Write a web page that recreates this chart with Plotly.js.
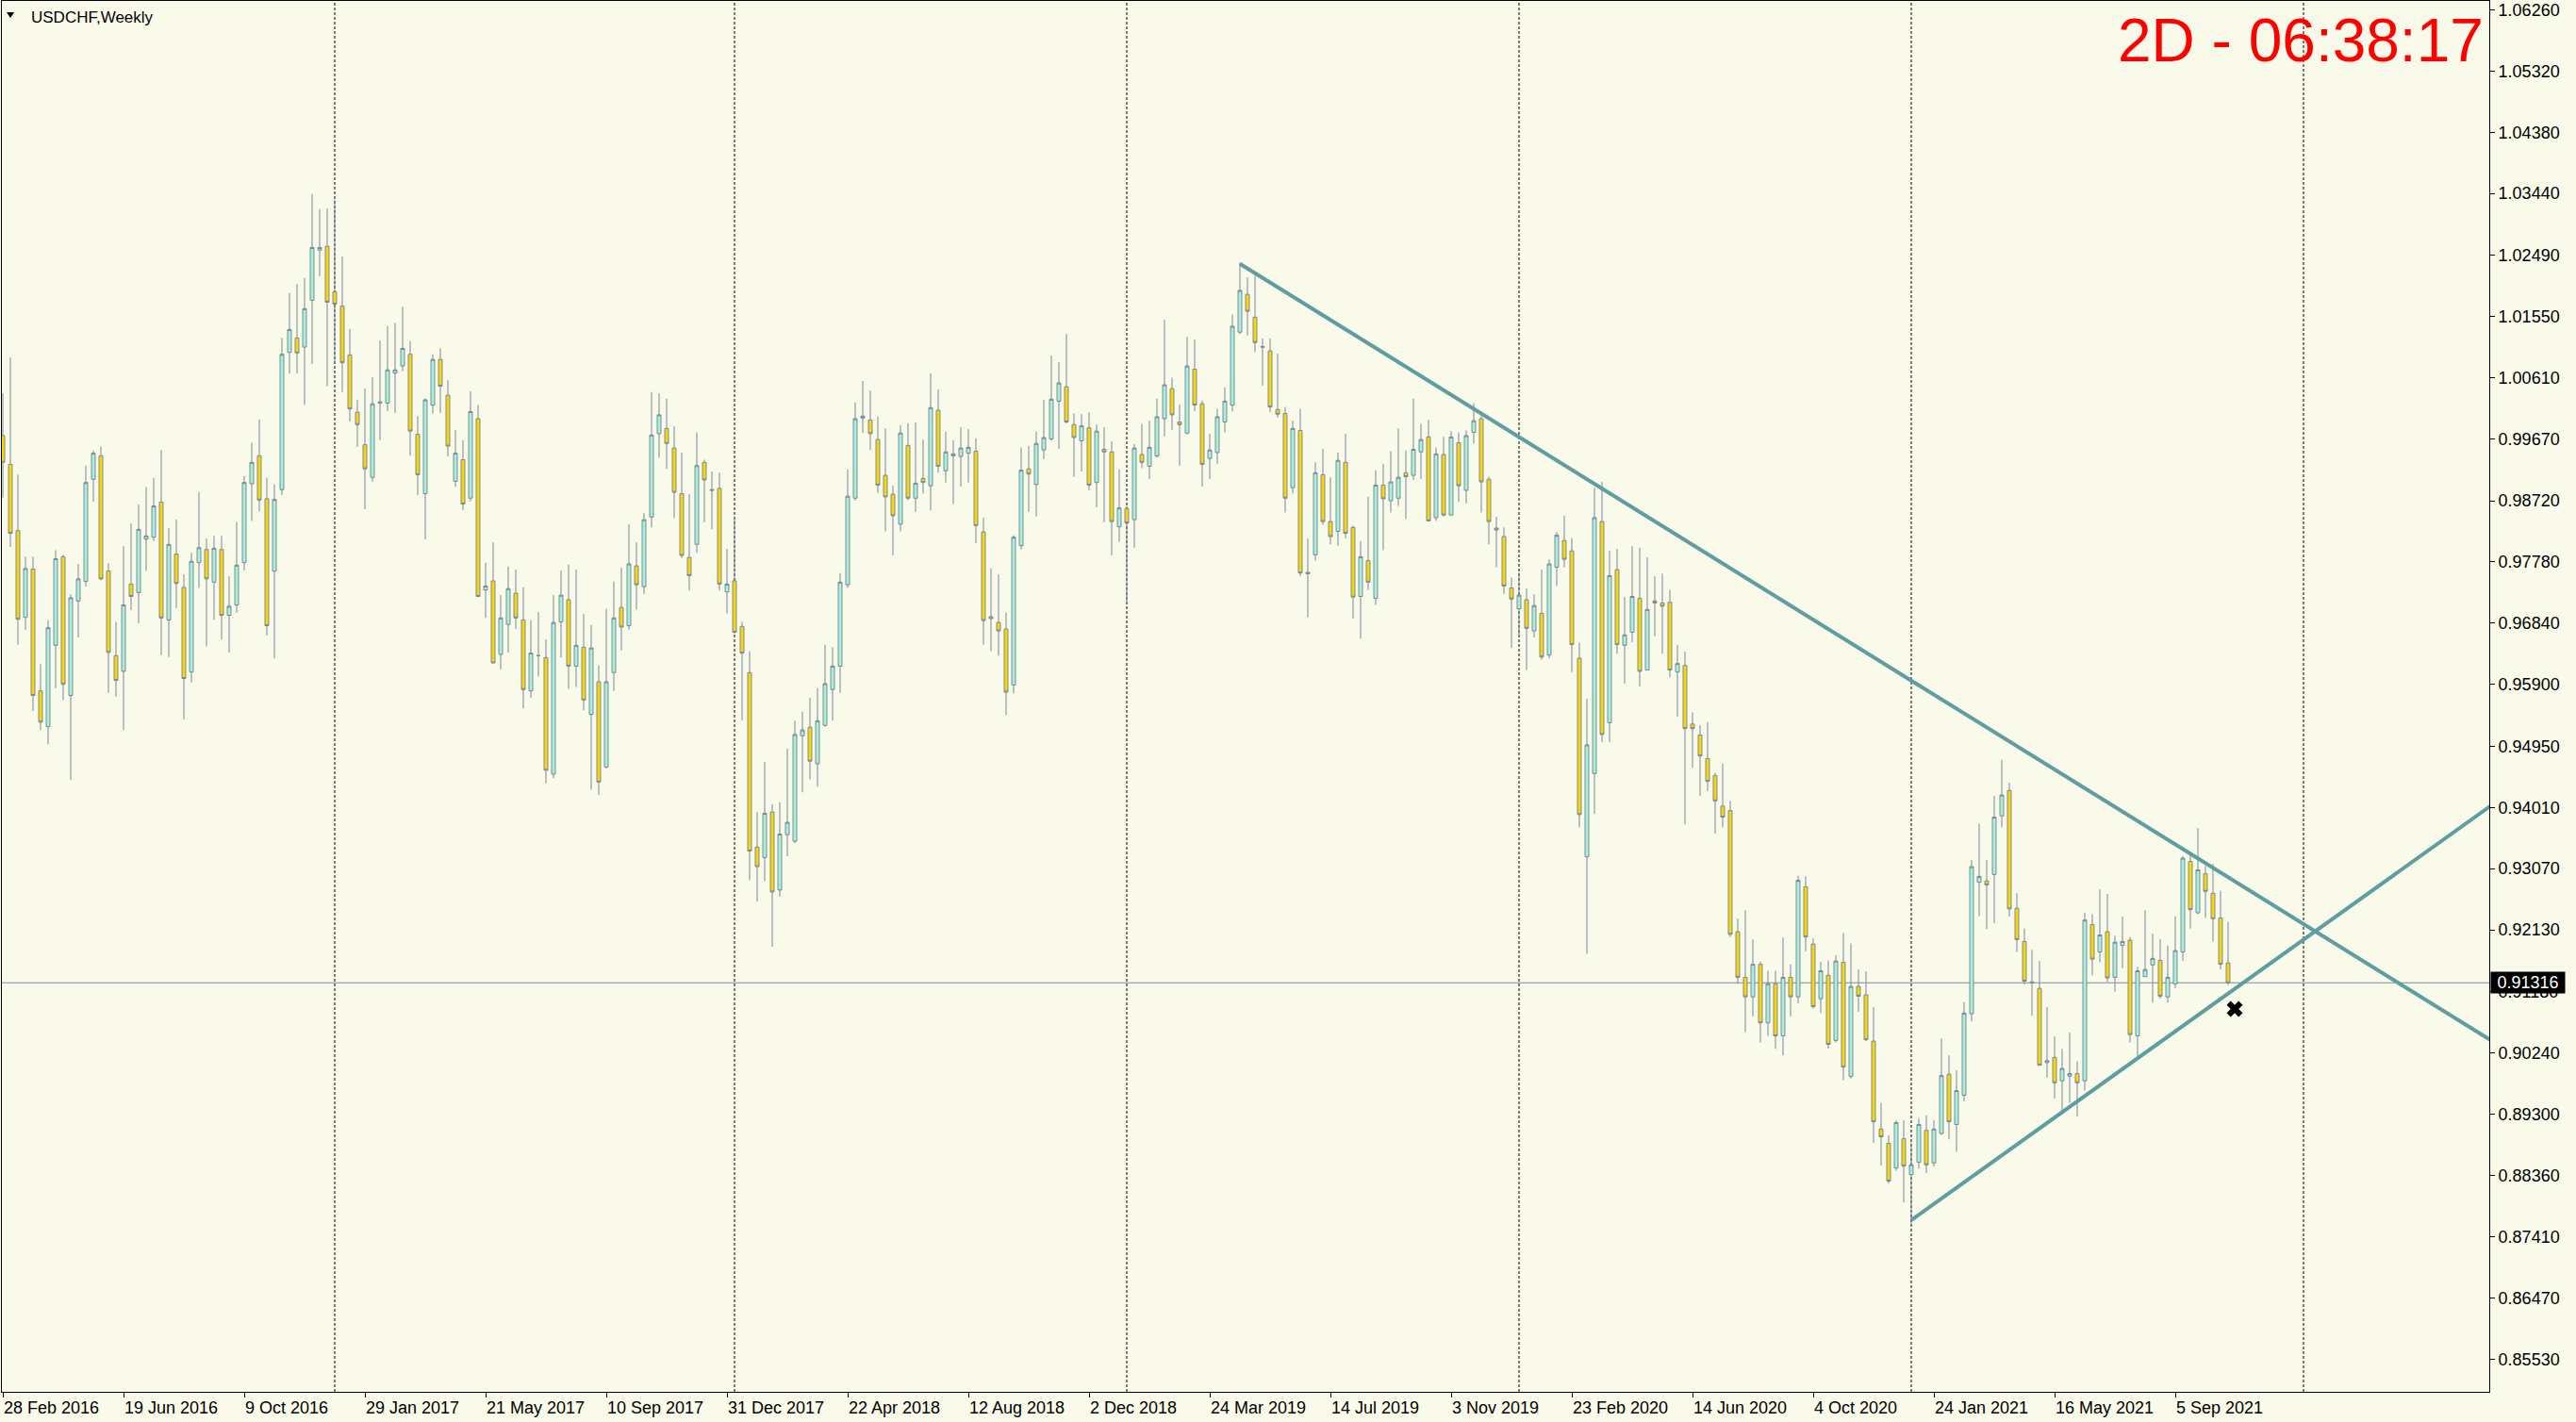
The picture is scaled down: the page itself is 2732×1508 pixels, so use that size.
<!DOCTYPE html>
<html><head><meta charset="utf-8">
<script src="https://cdn.plot.ly/plotly-3.0.1.min.js"></script>
<style>html,body{margin:0;padding:0;background:#FAFAEA;overflow:hidden}#chart{width:2732px;height:1508px}</style>
</head><body><div id="chart"></div>
<script>
// USDCHF weekly candles, first bar = week of 28 Feb 2016
const firstWeek = [2016, 1, 28];
const open = [
0.9972,0.9928,0.9826,0.9693,0.9767,0.9580,0.9525,0.9650,0.9786,0.9573,
0.9718,0.9748,0.9905,0.9941,0.9764,0.9634,0.9610,0.9744,0.9731,0.9813,
0.9816,0.9870,0.9689,0.9790,0.9739,0.9609,0.9777,0.9797,0.9747,0.9797,
0.9696,0.9712,0.9777,0.9898,0.9941,0.9875,0.9764,0.9889,1.0100,1.0122,
1.0108,1.0180,1.0257,1.0263,1.0193,1.0171,1.0096,1.0008,0.9958,0.9908,
1.0024,1.0022,1.0068,1.0079,1.0097,0.9974,0.9883,1.0019,1.0089,1.0034,
0.9902,0.9935,0.9876,0.9998,0.9735,0.9749,0.9636,0.9682,0.9730,0.9689,
0.9580,0.9634,0.9631,0.9452,0.9686,0.9720,0.9618,0.9647,0.9544,0.9594,
0.9463,0.9608,0.9708,0.9680,0.9772,0.9740,0.9847,0.9975,0.9983,0.9953,
0.9883,0.9785,0.9805,0.9931,0.9889,0.9891,0.9732,0.9749,0.9679,0.9608,
0.9340,0.9324,0.9394,0.9274,0.9359,0.9349,0.9511,0.9524,0.9468,0.9527,
0.9582,0.9618,0.9743,0.9876,0.9999,0.9996,0.9966,0.9911,0.9882,0.9836,
0.9957,0.9876,0.9906,0.9895,1.0011,0.9918,0.9941,0.9940,0.9945,0.9948,
0.9824,0.9694,0.9685,0.9675,0.9589,0.9803,0.9921,0.9897,0.9950,0.9967,
1.0025,1.0047,0.9989,0.9964,0.9984,0.9900,0.9951,0.9947,0.9832,0.9860,
0.9843,0.9943,0.9925,0.9941,0.9998,1.0044,0.9993,0.9976,1.0074,1.0021,
0.9937,0.9946,0.9993,1.0019,1.0131,1.0189,1.0154,1.0109,1.0102,1.0012,
1.0006,0.9892,0.9980,0.9762,0.9789,0.9912,0.9840,0.9825,0.9931,0.9831,
0.9725,0.9780,0.9722,0.9896,0.9872,0.9876,0.9915,0.9911,0.9947,0.9970,
0.9846,0.9943,0.9850,0.9961,0.9888,0.9977,0.9998,0.9905,0.9830,0.9817,
0.9738,0.9706,0.9720,0.9672,0.9699,0.9635,0.9770,0.9811,0.9795,0.9630,
0.9325,0.9453,0.9840,0.9531,0.9766,0.9650,0.9670,0.9722,0.9612,0.9718,
0.9715,0.9716,0.9609,0.9619,0.9529,0.9512,0.9476,0.9450,0.9403,0.9396,
0.9210,0.9140,0.9110,0.9160,0.9070,0.9130,0.9050,0.9140,0.9110,0.9279,
0.9191,0.9107,0.9143,0.9043,0.9163,0.8988,0.9126,0.9113,0.9042,0.8907,
0.8885,0.8847,0.8892,0.8837,0.8856,0.8905,0.8855,0.8900,0.8991,0.8914,
0.8959,0.9084,0.9286,0.9288,0.9298,0.9388,0.9427,0.9246,0.9195,0.9133,
0.9123,0.9009,0.9017,0.8981,0.8988,0.8992,0.8981,0.9221,0.9179,0.9210,
0.9140,0.9189,0.9197,0.9050,0.9141,0.9159,0.9166,0.9110,0.9130,0.9179,
0.9318,0.9239,0.9299,0.9269,0.9231,0.9162];
const high = [
1.0037,1.0092,0.9912,0.9786,0.9786,0.9621,0.9688,0.9796,0.9789,0.9728,
0.9775,0.9926,0.9949,0.9955,0.9776,0.9686,0.9802,0.9837,0.9866,0.9893,
0.9907,0.9950,0.9830,0.9843,0.9759,0.9792,0.9885,0.9814,0.9818,0.9818,
0.9756,0.9839,0.9910,0.9961,0.9997,0.9907,0.9897,1.0122,1.0191,1.0205,
1.0214,1.0343,1.0320,1.0321,1.0334,1.0247,1.0136,1.0027,1.0044,1.0062,
1.0118,1.0140,1.0145,1.0170,1.0117,1.0002,1.0029,1.0097,1.0106,1.0057,
0.9981,0.9965,1.0040,1.0019,0.9777,0.9808,0.9727,0.9771,0.9766,0.9739,
0.9688,0.9701,0.9659,0.9727,0.9765,0.9774,0.9766,0.9698,0.9681,0.9619,
0.9706,0.9748,0.9769,0.9836,0.9808,0.9853,1.0039,1.0037,1.0029,0.9986,
0.9946,0.9882,0.9977,0.9935,0.9917,0.9915,0.9798,0.9848,0.9686,0.9641,
0.9394,0.9471,0.9406,0.9409,0.9491,0.9534,0.9548,0.9569,0.9584,0.9651,
0.9647,0.9761,0.9920,1.0023,1.0056,1.0041,1.0001,0.9983,0.9895,0.9988,
0.9991,0.9992,0.9966,1.0068,1.0043,0.9978,0.9965,0.9985,0.9982,0.9968,
0.9846,0.9768,0.9759,0.9700,0.9819,0.9954,0.9956,0.9978,1.0027,1.0095,
1.0085,1.0128,1.0006,1.0005,1.0008,0.9989,0.9985,0.9963,0.9920,0.9864,
0.9959,0.9990,0.9995,1.0029,1.0150,1.0061,1.0020,1.0124,1.0120,1.0026,
0.9975,1.0013,1.0046,1.0158,1.0238,1.0215,1.0218,1.0121,1.0121,1.0098,
1.0016,0.9995,1.0013,0.9814,0.9931,0.9952,0.9908,0.9946,0.9975,0.9834,
0.9810,0.9878,0.9919,0.9929,0.9948,0.9983,0.9949,1.0029,0.9990,0.9996,
0.9954,0.9970,0.9979,0.9977,0.9980,1.0022,1.0006,0.9909,0.9847,0.9831,
0.9754,0.9762,0.9737,0.9728,0.9766,0.9782,0.9824,0.9849,0.9815,0.9654,
0.9568,0.9892,0.9901,0.9795,0.9798,0.9724,0.9802,0.9800,0.9785,0.9756,
0.9760,0.9735,0.9650,0.9640,0.9547,0.9527,0.9532,0.9454,0.9468,0.9411,
0.9230,0.9243,0.9198,0.9164,0.9150,0.9150,0.9201,0.9160,0.9296,0.9295,
0.9200,0.9164,0.9166,0.9174,0.9208,0.9192,0.9152,0.9149,0.9094,0.8947,
0.8897,0.8920,0.8920,0.8885,0.8923,0.8928,0.8920,0.9046,0.9020,0.8997,
0.9102,0.9320,0.9376,0.9320,0.9419,0.9474,0.9439,0.9269,0.9215,0.9182,
0.9165,0.9094,0.9049,0.9030,0.9055,0.9011,0.9239,0.9237,0.9275,0.9268,
0.9204,0.9233,0.9202,0.9156,0.9243,0.9207,0.9199,0.9189,0.9234,0.9326,
0.9333,0.9369,0.9311,0.9314,0.9273,0.9225];
const low = [
0.9877,0.9801,0.9651,0.9674,0.9549,0.9520,0.9498,0.9584,0.9566,0.9443,
0.9662,0.9740,0.9871,0.9750,0.9577,0.9571,0.9520,0.9704,0.9684,0.9764,
0.9810,0.9635,0.9632,0.9707,0.9536,0.9593,0.9738,0.9648,0.9689,0.9659,
0.9639,0.9700,0.9765,0.9841,0.9856,0.9665,0.9630,0.9881,1.0067,1.0068,
1.0019,1.0082,1.0217,1.0048,1.0085,1.0039,0.9994,0.9955,0.9859,0.9901,
0.9965,1.0010,1.0007,1.0071,0.9941,0.9881,0.9813,1.0006,1.0007,0.9940,
0.9893,0.9858,0.9871,0.9724,0.9692,0.9622,0.9613,0.9639,0.9675,0.9553,
0.9569,0.9602,0.9438,0.9446,0.9631,0.9583,0.9586,0.9550,0.9428,0.9420,
0.9461,0.9580,0.9642,0.9674,0.9705,0.9729,0.9831,0.9938,0.9921,0.9845,
0.9784,0.9734,0.9792,0.9839,0.9828,0.9734,0.9699,0.9668,0.9535,0.9289,
0.9256,0.9288,0.9187,0.9264,0.9326,0.9346,0.9424,0.9444,0.9433,0.9525,
0.9534,0.9577,0.9738,0.9872,0.9976,0.9950,0.9884,0.9825,0.9788,0.9825,
0.9873,0.9855,0.9883,0.9857,0.9915,0.9900,0.9867,0.9894,0.9900,0.9807,
0.9651,0.9641,0.9634,0.9543,0.9576,0.9797,0.9855,0.9848,0.9936,0.9964,
0.9952,0.9991,0.9909,0.9917,0.9888,0.9862,0.9839,0.9788,0.9809,0.9715,
0.9800,0.9922,0.9905,0.9938,0.9971,0.9981,0.9926,0.9974,1.0010,0.9894,
0.9905,0.9929,0.9977,1.0009,1.0128,1.0126,1.0100,1.0049,1.0008,1.0000,
0.9854,0.9883,0.9756,0.9693,0.9780,0.9835,0.9805,0.9803,0.9814,0.9691,
0.9660,0.9735,0.9712,0.9796,0.9854,0.9864,0.9844,0.9904,0.9905,0.9841,
0.9841,0.9848,0.9850,0.9870,0.9868,0.9960,0.9854,0.9805,0.9770,0.9729,
0.9646,0.9663,0.9612,0.9662,0.9628,0.9630,0.9741,0.9770,0.9609,0.9370,
0.9176,0.9391,0.9501,0.9501,0.9637,0.9591,0.9655,0.9587,0.9612,0.9664,
0.9637,0.9601,0.9540,0.9375,0.9462,0.9419,0.9426,0.9361,0.9370,0.9202,
0.9130,0.9056,0.9080,0.9040,0.9050,0.9030,0.9020,0.9080,0.9100,0.9180,
0.9092,0.9085,0.9031,0.9040,0.8982,0.8984,0.9087,0.9042,0.8886,0.8851,
0.8823,0.8843,0.8794,0.8760,0.8846,0.8839,0.8849,0.8898,0.8891,0.8872,
0.8949,0.9072,0.9234,0.9214,0.9223,0.9370,0.9233,0.9179,0.9129,0.9081,
0.9004,0.8986,0.8954,0.8929,0.8947,0.8926,0.8966,0.9143,0.9163,0.9133,
0.9118,0.9154,0.9040,0.9018,0.9141,0.9101,0.9107,0.9101,0.9123,0.9165,
0.9215,0.9237,0.9231,0.9195,0.9152,0.9128];
const close = [
0.9931,0.9822,0.9690,0.9768,0.9573,0.9532,0.9677,0.9783,0.9590,0.9723,
0.9752,0.9900,0.9945,0.9752,0.9639,0.9596,0.9712,0.9725,0.9828,0.9818,
0.9864,0.9692,0.9805,0.9745,0.9599,0.9779,0.9800,0.9752,0.9799,0.9696,
0.9710,0.9773,0.9900,0.9931,0.9873,0.9680,0.9874,1.0097,1.0135,1.0099,
1.0167,1.0261,1.0261,1.0177,1.0174,1.0084,1.0013,0.9989,0.9921,1.0021,
1.0022,1.0073,1.0073,1.0106,0.9979,0.9912,1.0027,1.0089,1.0048,0.9956,
0.9945,0.9867,1.0009,0.9725,0.9741,0.9623,0.9692,0.9737,0.9692,0.9582,
0.9638,0.9634,0.9458,0.9685,0.9727,0.9618,0.9650,0.9566,0.9646,0.9440,
0.9594,0.9692,0.9678,0.9775,0.9743,0.9843,0.9973,1.0004,0.9960,0.9885,
0.9788,0.9757,0.9926,0.9904,0.9888,0.9744,0.9744,0.9670,0.9638,0.9334,
0.9310,0.9392,0.9271,0.9360,0.9378,0.9513,0.9520,0.9472,0.9534,0.9591,
0.9618,0.9747,0.9879,0.9998,1.0002,0.9975,0.9896,0.9878,0.9849,0.9976,
0.9876,0.9899,0.9900,1.0015,0.9925,0.9947,0.9944,0.9953,0.9954,0.9834,
0.9688,0.9691,0.9672,0.9578,0.9816,0.9919,0.9913,0.9960,0.9969,1.0028,
1.0053,0.9993,0.9969,0.9987,0.9896,0.9979,0.9947,0.9840,0.9861,0.9838,
0.9953,0.9931,0.9954,1.0001,1.0050,1.0004,0.9989,1.0079,1.0019,0.9928,
0.9950,1.0001,1.0025,1.0140,1.0195,1.0163,1.0115,1.0108,1.0016,1.0005,
0.9876,0.9983,0.9761,0.9760,0.9915,0.9840,0.9817,0.9934,0.9822,0.9724,
0.9786,0.9747,0.9896,0.9875,0.9901,0.9908,0.9909,0.9951,0.9966,0.9841,
0.9944,0.9850,0.9970,0.9895,0.9972,0.9995,0.9901,0.9840,0.9827,0.9741,
0.9721,0.9727,0.9676,0.9711,0.9632,0.9775,0.9819,0.9782,0.9651,0.9390,
0.9497,0.9846,0.9513,0.9757,0.9651,0.9666,0.9725,0.9610,0.9705,0.9715,
0.9710,0.9612,0.9622,0.9522,0.9522,0.9480,0.9441,0.9411,0.9386,0.9206,
0.9140,0.9110,0.9160,0.9070,0.9130,0.9050,0.9140,0.9110,0.9289,0.9202,
0.9095,0.9150,0.9037,0.9165,0.9002,0.9126,0.9111,0.9044,0.8918,0.8895,
0.8827,0.8917,0.8850,0.8852,0.8914,0.8852,0.8907,0.8989,0.8918,0.8966,
0.9085,0.9310,0.9295,0.9282,0.9386,0.9420,0.9245,0.9198,0.9134,0.9132,
0.9005,0.9012,0.8978,0.9000,0.8992,0.8978,0.9228,0.9168,0.9205,0.9139,
0.9194,0.9195,0.9052,0.9150,0.9152,0.9169,0.9111,0.9140,0.9181,0.9323,
0.9244,0.9305,0.9272,0.9230,0.9160,0.91316];

const tickDates = ['2016-02-28','2016-06-19','2016-10-09','2017-01-29','2017-05-21','2017-09-10','2017-12-31',
  '2018-04-22','2018-08-12','2018-12-02','2019-03-24','2019-07-14','2019-11-03','2020-02-23','2020-06-14',
  '2020-10-04','2021-01-24','2021-05-16','2021-09-05'];
const tickLabels = ['28 Feb 2016','19 Jun 2016','9 Oct 2016','29 Jan 2017','21 May 2017','10 Sep 2017','31 Dec 2017',
  '22 Apr 2018','12 Aug 2018','2 Dec 2018','24 Mar 2019','14 Jul 2019','3 Nov 2019','23 Feb 2020','14 Jun 2020',
  '4 Oct 2020','24 Jan 2021','16 May 2021','5 Sep 2021'];
const yearGridDates = ['2017-01-01','2018-01-07','2019-01-06','2020-01-05','2021-01-03','2022-01-02'];
const priceTicks = [1.06260,1.05320,1.04380,1.03440,1.02490,1.01550,1.00610,0.99670,0.98720,0.97780,0.96840,
  0.95900,0.94950,0.94010,0.93070,0.92130,0.91180,0.90240,0.89300,0.88360,0.87410,0.86470,0.85530];
const currentPrice = 0.91316;
const upperLineDates = ['2019-04-21','2022-06-26'];
const upperLinePrices = [1.0236, 0.9042];
const lowerLineDates = ['2021-01-03','2022-06-26'];
const lowerLinePrices = [0.8767, 0.9405];
const crossDate = ['2021-10-30 03:00:00'];
const crossPrice = [0.90913];
const countdown = '2D - 06:38:17';
const symbolTitle = 'USDCHF,Weekly';

const DAY = 86400000, WEEK = 7 * DAY;
const t0 = Date.UTC(firstWeek[0], firstWeek[1], firstWeek[2]);
const p2 = n => String(n).padStart(2, '0');
const fmt = ms => { const d = new Date(ms); return d.getUTCFullYear() + '-' + p2(d.getUTCMonth() + 1) + '-' + p2(d.getUTCDate()) + ' ' + p2(d.getUTCHours()) + ':' + p2(d.getUTCMinutes()) + ':' + p2(d.getUTCSeconds()); };
const weeks = open.map((_, i) => fmt(t0 + i * WEEK));

const FONT = 'Liberation Sans, Arial, sans-serif';
const BG = '#FAFAEA';
const WICK = '#778899';

const traces = [
  { type: 'candlestick', x: weeks, open: open, high: high, low: low, close: close,
    increasing: { line: { color: WICK, width: 1 }, fillcolor: '#A6F3D9' },
    decreasing: { line: { color: WICK, width: 1 }, fillcolor: '#FFD700' },
    whiskerwidth: 0, hoverinfo: 'skip', showlegend: false },
  { type: 'scatter', mode: 'lines', x: upperLineDates, y: upperLinePrices,
    line: { color: '#5F9EA0', width: 4 }, hoverinfo: 'skip', showlegend: false },
  { type: 'scatter', mode: 'lines', x: lowerLineDates, y: lowerLinePrices,
    line: { color: '#5F9EA0', width: 4 }, hoverinfo: 'skip', showlegend: false },
  { type: 'scatter', mode: 'markers', x: crossDate, y: crossPrice,
    marker: { symbol: 'x', size: 15, color: '#000000', line: { width: 0 } }, hoverinfo: 'skip', showlegend: false }
];

const shapes = yearGridDates.map(d => ({
  type: 'line', xref: 'x', yref: 'paper', x0: d, x1: d, y0: 0, y1: 1, layer: 'below',
  line: { color: '#000000', width: 1, dash: '3px,2px' }
}));
shapes.push({ type: 'line', xref: 'paper', yref: 'y', x0: 0, x1: 1, y0: currentPrice, y1: currentPrice,
  layer: 'below', line: { color: '#7B8A98', width: 1 } });
shapes.push({ type: 'path', xref: 'paper', yref: 'paper', xsizemode: 'pixel', ysizemode: 'pixel',
  xanchor: 0, yanchor: 1, path: 'M 5,-12 L 13,-12 L 9,-18 Z', fillcolor: '#000000', line: { width: 0 } });

const layout = {
  width: 2732, height: 1508,
  margin: { l: 2, r: 92, t: 1, b: 32, pad: 0 },
  paper_bgcolor: BG, plot_bgcolor: BG,
  showlegend: false,
  font: { family: FONT, size: 18, color: '#000000' },
  xaxis: {
    type: 'date',
    range: [fmt(t0 - 0.125 * WEEK), fmt(t0 + 329.625 * WEEK)],
    tickvals: tickDates, ticktext: tickLabels,
    ticks: 'outside', ticklen: 5, tickcolor: '#000000', tickwidth: 1,
    ticklabelposition: 'outside right',
    tickfont: { family: FONT, size: 18, color: '#000000' },
    showgrid: false, zeroline: false,
    showline: true, linecolor: '#000000', linewidth: 1, mirror: true,
    rangeslider: { visible: false }, fixedrange: true
  },
  yaxis: {
    side: 'right',
    range: [0.85033, 1.06397],
    tickvals: priceTicks, ticktext: priceTicks.map(v => v.toFixed(5)),
    ticks: 'outside', ticklen: 5, tickcolor: '#000000', tickwidth: 1,
    tickfont: { family: FONT, size: 18, color: '#000000' },
    showgrid: false, zeroline: false,
    showline: true, linecolor: '#000000', linewidth: 1, mirror: true, fixedrange: true
  },
  shapes: shapes,
  annotations: [
    { xref: 'paper', yref: 'paper', x: 0, y: 1, xanchor: 'left', yanchor: 'top', xshift: 29, yshift: -6,
      text: symbolTitle, showarrow: false, font: { family: FONT, size: 17, color: '#000000' } },
    { xref: 'paper', yref: 'paper', x: 1, y: 1, xanchor: 'right', yanchor: 'top', xshift: -4, yshift: -4,
      text: countdown, showarrow: false, font: { family: FONT, size: 64, color: '#FF0000' } },
    { xref: 'paper', yref: 'y', x: 1, y: currentPrice, xanchor: 'left', yanchor: 'middle', xshift: 1,
      text: currentPrice.toFixed(5), showarrow: false, bgcolor: '#000000', width: 76, height: 20, borderpad: 1,
      font: { family: FONT, size: 18, color: '#FFFFFF' } }
  ]
};

Plotly.newPlot('chart', traces, layout, { staticPlot: true, displayModeBar: false });
</script>
</body></html>
